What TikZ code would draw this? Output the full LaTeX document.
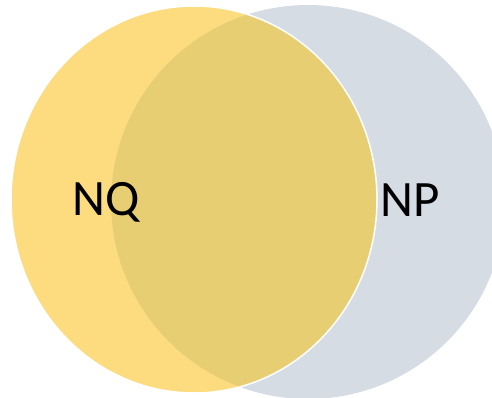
\documentclass[tikz,border=0pt]{standalone}
\usepackage{fontspec}
\setmainfont{Carlito}
\definecolor{ygold}{RGB}{253,220,128}
\definecolor{yover}{RGB}{232,206,115}
\definecolor{bgray}{RGB}{214,220,228}
\tikzset{lbl/.style={anchor=base,inner sep=0pt,font=\fontsize{51}{60}\selectfont,text=black}}
\begin{document}
\begin{tikzpicture}[x=1pt,y=-1pt]
\useasboundingbox (0,0) rectangle (492,398);
\begin{scope}
\clip (0,0) rectangle (492,398);
\fill[bgray] (308,202) circle[radius=197];
\fill[ygold] (194,199.5) ellipse[x radius=183,y radius=193.5];
\begin{scope}
\clip (308,202) circle[radius=197];
\fill[yover] (194,199.5) ellipse[x radius=183,y radius=193.5];
\end{scope}
\draw[white,line width=1.5pt] (194,199.5) ellipse[x radius=183,y radius=193.5];
\end{scope}
\node[lbl] (nq) at (106,215) {NQ};
\node[lbl] (np) at (410,216.5) {NP};
\end{tikzpicture}
\end{document}
